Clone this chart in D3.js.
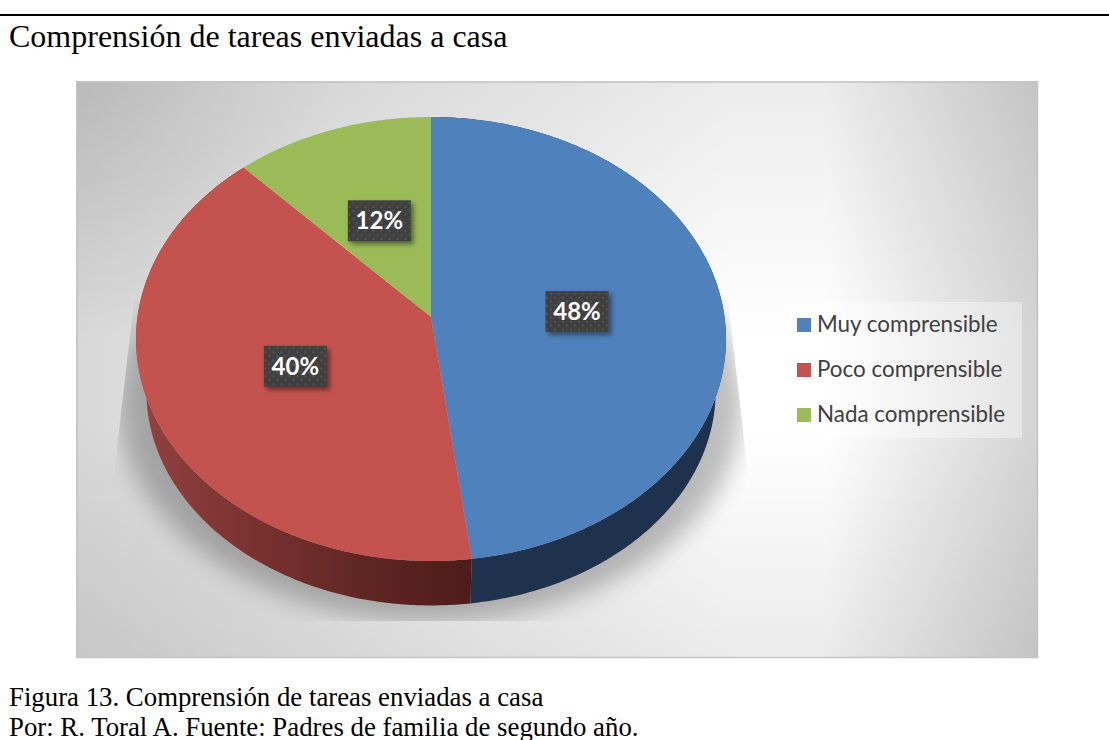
<!DOCTYPE html>
<html><head><meta charset="utf-8">
<style>html,body{margin:0;padding:0;background:#fff;overflow:hidden}svg{display:block}</style>
<script src="https://cdn.jsdelivr.net/npm/d3@7"></script></head><body>
<svg id="c" width="1109" height="740"></svg>
<script>
const titleText = "Comprensión de tareas enviadas a casa";
const captionLines = ["Figura 13. Comprensión de tareas enviadas a casa","Por: R. Toral A. Fuente: Padres de familia de segundo año."];
const categories = ["Muy comprensible","Poco comprensible","Nada comprensible"];
const values = [48,40,12];
const labels = ["48%","40%","12%"];
const colors = ["#4f81bd","#c4524f","#9bbb59"];

const svg = d3.select("#c");
const defs = svg.append("defs");

// perspective view of the unit disc
const K = -0.0991;
const sx = d3.scaleLinear().domain([-1,1]).range([431-293.5,431+293.5]);
const sy = d3.scaleLinear().domain([-1,1]).range([317-219.8,317+219.8]);
function project(a,r,scale=1,dy=0){
  const u=r*Math.sin(a), v=-r*Math.cos(a), w=1+K*v;
  const x=sx(u/w)-431, y=sy(v/w)-317;
  return [431+x*scale, 317+dy+y*scale];
}
const line = d3.line();
const pie = d3.pie().sort(null).startAngle(0).endAngle(2*Math.PI)(values);
const arcAngles = (s,e)=>{const n=Math.max(4,Math.ceil((e-s)/0.01));return d3.range(n+1).map(i=>s+(e-s)*i/n);};

// background gradients
function linGrad(id,x1,y1,x2,y2,stops){
  const g=defs.append("linearGradient").attr("id",id).attr("gradientUnits","userSpaceOnUse")
    .attr("x1",x1).attr("y1",y1).attr("x2",x2).attr("y2",y2);
  stops.forEach(s=>g.append("stop").attr("offset",s[0]).attr("stop-color",s[1]));
}
linGrad("bgH",76,0,1038,0,[[0,"#d8d8d8"],[0.35,"#eeeeee"],[0.68,"#ffffff"],[0.78,"#ffffff"],[1,"#d4d4d4"]]);
linGrad("bgV",0,81,0,658,[[0,"#ececec"],[0.45,"#ffffff"],[0.6,"#ffffff"],[1,"#ebebeb"]]);
linGrad("sideRed",136,0,471,0,[[0,"#934240"],[0.35,"#7a3230"],[0.7,"#5e2523"],[1,"#4e1c1a"]]);
linGrad("sideBlue",471,0,726,0,[[0,"#1e324e"],[1,"#1e324e"]]);
const vig=defs.append("radialGradient").attr("id","vig").attr("gradientUnits","userSpaceOnUse")
  .attr("cx",76).attr("cy",81).attr("r",260);
vig.append("stop").attr("offset",0).attr("stop-color","#000").attr("stop-opacity",0.07);
vig.append("stop").attr("offset",1).attr("stop-color","#000").attr("stop-opacity",0);
const blur=defs.append("filter").attr("id","blur").attr("x","-20%").attr("y","-20%").attr("width","140%").attr("height","140%");
blur.append("feGaussianBlur").attr("stdDeviation",12);
const ds=defs.append("filter").attr("id","ds").attr("x","-30%").attr("y","-30%").attr("width","170%").attr("height","170%");
ds.append("feDropShadow").attr("dx",3).attr("dy",3).attr("stdDeviation",2.5).attr("flood-color","#000").attr("flood-opacity",0.45);
const pat=defs.append("pattern").attr("id","dots").attr("width",8).attr("height",8).attr("patternUnits","userSpaceOnUse");
pat.append("rect").attr("width",8).attr("height",8).attr("fill","#404040");
pat.append("rect").attr("x",1).attr("y",1).attr("width",2).attr("height",2).attr("fill","#525252");
pat.append("rect").attr("x",5).attr("y",5).attr("width",2).attr("height",2).attr("fill","#525252");
defs.append("clipPath").attr("id","shClip").append("polygon")
  .attr("points","134,300 728,300 747,465 747,621 115,621 115,465");

// rule and title
svg.append("rect").attr("x",0).attr("y",14).attr("width",1109).attr("height",2).attr("fill","#000");
svg.append("text").attr("x",9).attr("y",47).attr("font-family","Liberation Serif").attr("font-size",32)
  .attr("fill","#000").text(titleText);

// panel
const panel=svg.append("g").style("isolation","isolate");
panel.append("rect").attr("x",76).attr("y",81).attr("width",962).attr("height",577).attr("fill","url(#bgH)");
panel.append("rect").attr("x",76).attr("y",81).attr("width",962).attr("height",577).attr("fill","url(#bgV)").style("mix-blend-mode","multiply");
svg.append("rect").attr("x",76).attr("y",81).attr("width",300).attr("height",300).attr("fill","url(#vig)");
svg.append("rect").attr("x",77).attr("y",82).attr("width",960.5).attr("height",575.5).attr("fill","none").attr("stroke","#c4c4c4").attr("stroke-width",1.5);

// shadow
svg.append("g").attr("clip-path","url(#shClip)")
  .append("ellipse").attr("cx",431).attr("cy",403).attr("rx",312).attr("ry",218)
  .attr("fill","#000").attr("opacity",0.25).attr("filter","url(#blur)");

// sides (visible front part only, the top face covers the remainder)
const depth=53, shrink=0.965;
const g=svg.append("g");
const sideFill=["url(#sideBlue)","url(#sideRed)",null];
pie.forEach((d,i)=>{
  if(!sideFill[i]) return;
  const as=arcAngles(d.startAngle,d.endAngle);
  const pts=as.map(a=>project(a,1)).concat(as.slice().reverse().map(a=>project(a,1,shrink,depth)));
  g.append("path").attr("d",line(pts)+"Z").attr("fill",sideFill[i]);
});
// top faces
pie.forEach((d,i)=>{
  const as=arcAngles(d.startAngle,d.endAngle);
  const pts=[project(0,0)].concat(as.map(a=>project(a,1)));
  g.append("path").attr("d",line(pts)+"Z").attr("fill",colors[i]);
});

// data labels
pie.forEach((d,i)=>{
  const [cx,cy]=project((d.startAngle+d.endAngle)/2,0.5);
  const l=svg.append("g").attr("transform",`translate(${cx},${cy+1.5})`);
  l.append("rect").attr("x",-31.5).attr("y",-20.5).attr("width",63).attr("height",41)
    .attr("fill","url(#dots)").attr("filter","url(#ds)");
  l.append("text").attr("text-anchor","middle").attr("y",8.5).attr("font-family","Lato")
    .attr("font-weight",700).attr("font-size",24).attr("fill","#fff").text(labels[i]);
});

// legend
svg.append("rect").attr("x",785).attr("y",302).attr("width",237).attr("height",136).attr("fill","#fff").attr("opacity",0.36);
const legendY=d3.scalePoint().domain(categories).range([325,415]);
categories.forEach((c,i)=>{
  const y=legendY(c);
  svg.append("rect").attr("x",797).attr("y",y-7).attr("width",14).attr("height",14).attr("fill",colors[i]);
  svg.append("text").attr("x",817).attr("y",y+7).attr("font-family","Lato").attr("font-size",22.4).attr("fill","#404040").text(c);
});

// caption
captionLines.forEach((t,i)=>{
  svg.append("text").attr("x",9).attr("y",706+i*29.5).attr("font-family","Liberation Serif").attr("font-size",26.8).attr("fill","#000").text(t);
});
</script></body></html>
